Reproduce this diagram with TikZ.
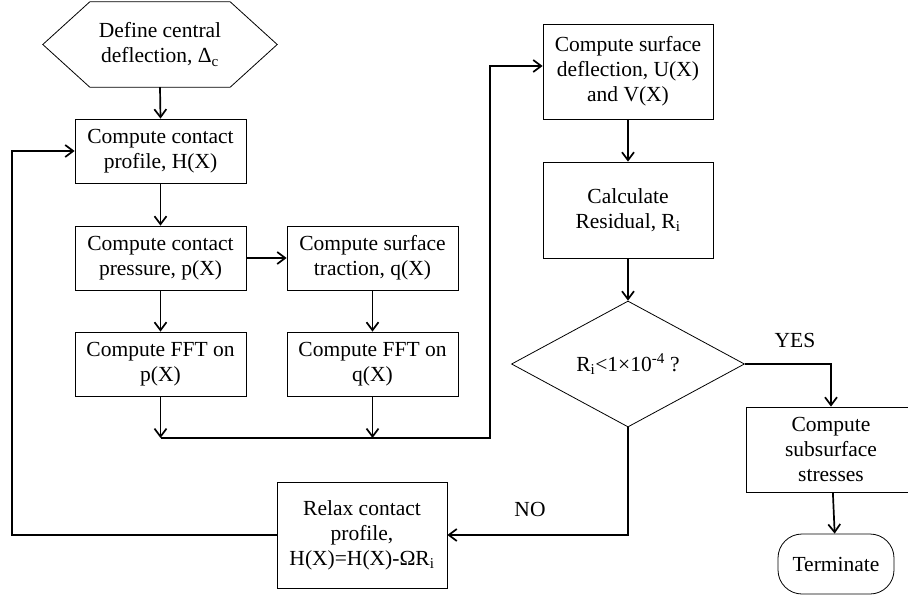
\documentclass[tikz,border=0pt]{standalone}
\usepackage{fontspec}
\setmainfont{Liberation Serif}
\usetikzlibrary{arrows.meta,shapes.geometric}
\begin{document}
\begin{tikzpicture}[x=1pt,y=-1pt,
  every node/.style={font=\fontsize{21.5}{25}\selectfont, align=center, inner sep=0pt},
  procbox/.style={draw, line width=0.8pt, minimum width=171pt, minimum height=64pt},
  flowarr/.style={line width=1.7pt, -{Straight Barb[length=8pt,width=12pt,line width=1.7pt]}},
  flowline/.style={line width=1.7pt}]
\useasboundingbox (0,0) rectangle (908,597);
\clip (0,0) rectangle (908,597);
% start hexagon
\node (start) [minimum width=140pt, minimum height=85pt] at (160,44.5) {Define central\\deflection, Δ\textsubscript{c}};
\draw[line width=0.8pt] (start.north west) -- (start.north east) -- ([xshift=47pt]start.east) -- (start.south east) -- (start.south west) -- ([xshift=-47pt]start.west) -- cycle;
\node (b1) [procbox] at (160.5,151) {Compute contact\\profile, H(X)};
\node (b2) [procbox] at (160.5,258) {Compute contact\\pressure, p(X)};
\node (b3) [procbox] at (372.5,258) {Compute surface\\traction, q(X)};
\node (b4) [procbox] at (160.5,364) {Compute FFT on\\p(X)};
\node (b5) [procbox] at (372.5,364) {Compute FFT on\\q(X)};
\node (b6) [procbox, minimum width=170pt, minimum height=95pt] at (628,71.5) {Compute surface\\deflection, U(X)\\and V(X)};
\node (b7) [procbox, minimum width=170pt, minimum height=96pt] at (628,210) {Calculate\\Residual, R\textsubscript{i}};
\node (dia) [draw, diamond, line width=0.8pt, minimum width=233pt, minimum height=126pt] at (628,364) {R\textsubscript{i}<1×10\textsuperscript{-4} ?};
\node (b8) [procbox, minimum width=170pt, minimum height=85pt] at (831,449.5) {Compute\\subsurface\\stresses};
\node (term) [draw, line width=0.8pt, rounded corners=24pt, minimum width=116pt, minimum height=60pt] at (836,564) {Terminate};
\node (b9) [procbox, minimum width=170pt, minimum height=106pt] at (362,535) {Relax contact\\profile,\\H(X)=H(X)-ΩR\textsubscript{i}};
\node (yes) at (795,340) {YES};
\node (no) at (530,509) {NO};
% connectors
\coordinate (m1) at (160.5,438);
\coordinate (m2) at (372.5,438);
\coordinate (c1) at (490,438);
\coordinate (c2) at (490,66);
\coordinate (lft) at (12,535);
\draw[flowarr] (start.south) -- (b1.north);
\draw[flowarr] (b1) -- (b2);
\draw[flowarr] (b2) -- (b3);
\draw[flowarr] (b2) -- (b4);
\draw[flowarr] (b3) -- (b5);
\draw[flowarr] (b4.south) -- (m1);
\draw[flowarr] (b5.south) -- (m2);
\draw[flowarr] (m1) -- (c1) -- (c2) -- (c2 -| b6.west);
\draw[flowarr] (b6) -- (b7);
\draw[flowarr] (b7) -- (dia.north);
\draw[flowarr] (dia.east) -| (b8.north);
\draw[flowarr] (b8) -- (term);
\draw[flowarr] (dia.south) |- (b9.east);
\draw[flowarr] (b9.west) -- (lft) |- (b1.west);
\end{tikzpicture}
\end{document}
